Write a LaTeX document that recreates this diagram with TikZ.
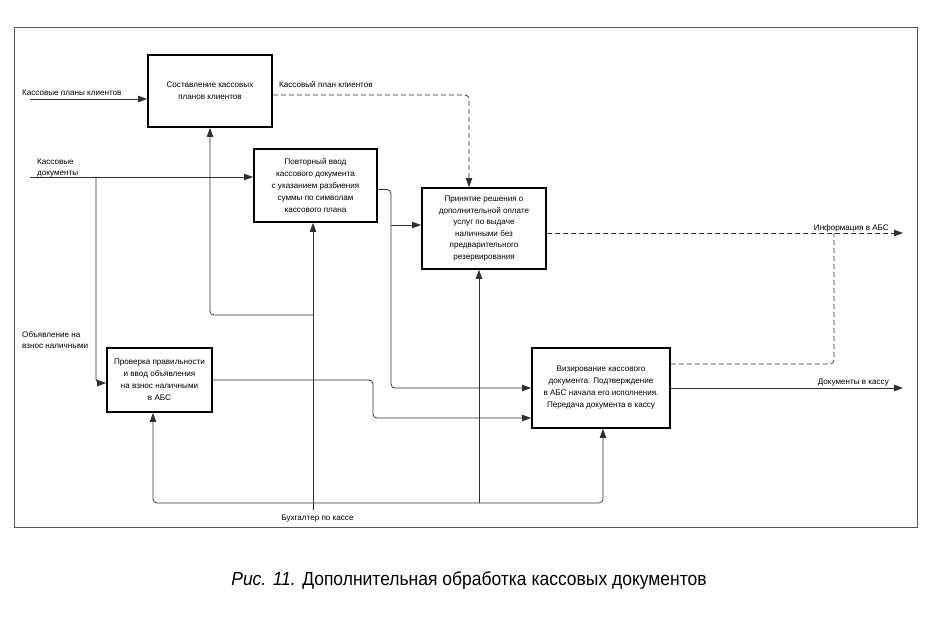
\documentclass[tikz,border=0pt]{standalone}
\usepackage{fontspec}
\setmainfont{Liberation Sans}
\newfontfamily\capfont{Liberation Sans}[FakeStretch=0.92]
\usetikzlibrary{arrows.meta}
\definecolor{ln}{HTML}{303030}
\definecolor{fr}{HTML}{555555}
\tikzset{
  box/.style={draw=black,line width=1.8pt,fill=white,align=center,inner sep=1pt,
    font=\fontsize{8.1}{12}\selectfont},
  conn/.style={draw=ln,line width=0.75pt},
  arr/.style={conn,-{Triangle[length=9pt,width=6.5pt]}},
  dsh/.style={dash pattern=on 5pt off 3pt},
  rc/.style={rounded corners=4pt},
  lbl/.style={inner sep=0pt,font=\fontsize{8.1}{11.5}\selectfont,align=left},
}
\begin{document}
\begin{tikzpicture}[x=1pt,y=-1pt]
\useasboundingbox (0,0) rectangle (934,616);
\draw[fr,line width=0.9pt] (14,27) rectangle (917,527);

% boxes
\node[box,minimum width=124pt,minimum height=72pt] (A) at (210,91) {Составление кассовых\\планов клиентов};
\node[box,minimum width=123pt,minimum height=73pt] (B) at (315.5,185.5) {Повторный ввод\\кассового документа\\с указанием разбиения\\суммы по символам\\кассового плана};
\node[box,minimum width=124pt,minimum height=81pt,font=\fontsize{8.1}{11.5}\selectfont] (C) at (484,228.5) {Принятие решения о\\дополнительной оплате\\услуг по выдаче\\наличными без\\предварительного\\резервирования};
\node[box,minimum width=105pt,minimum height=64pt] (D) at (159.5,380) {Проверка правильности\\и ввод объявления\\на взнос наличными\\в АБС};
\node[box,minimum width=138pt,minimum height=80pt] (E) at (601,388) {Визирование кассового\\документа. Подтверждение\\в АБС начала его исполнения.\\Передача документа в кассу};

% coordinates
\coordinate (pl) at (30,99);
\coordinate (doc) at (30,177);
\coordinate (docb) at (96,177);
\coordinate (bj) at (391,225);
\coordinate (bE) at (391,388);
\coordinate (dE) at (373,418);
\coordinate (info) at (903,233);
\coordinate (ij) at (834,233);
\coordinate (docs) at (903,388);
\coordinate (mech) at (313,510);
\coordinate (mj) at (313,503);
\coordinate (aj) at (313,315);

% inputs
\draw[arr] (pl) -- (pl -| A.west);
\draw[arr] (doc) -- (doc -| B.west);
\draw[arr,rc] (docb) |- ([yshift=-3pt]D.west);

% A -> C (dashed control)
\draw[arr,dsh,rc] ([yshift=-4pt]A.east) -| ([xshift=-15pt]C.north);

% B -> C and B -> E
\draw[arr,rc] ([yshift=-4pt]B.east) -| (bE) -- (bE -| E.west);
\draw[arr] (bj) -- (bj -| C.west);

% D -> E
\draw[arr,rc] (D.east) -| (dE) -- (dE -| E.west);

% outputs
\draw[arr,dsh] (C.east |- info) -- (info);
\draw[conn,dsh,rc] ([yshift=24pt]E.east) -| (ij);
\draw[arr] (E.east |- docs) -- (docs);

% mechanisms
\draw[conn] (mech) -- (mj);
\draw[arr,rc] (mj) -| ([xshift=-6.5pt]D.south);
\draw[arr,rc] (mj) -| ([xshift=2pt]E.south);
\draw[arr] ([xshift=-5pt]C.south |- mj) -- ([xshift=-5pt]C.south);
\draw[arr] (mj) -- (mj |- B.south);
\draw[arr,rc] (aj) -| (A.south);

% labels
\node[lbl,anchor=west] (lpl) at (22,93) {Кассовые планы клиентов};
\node[lbl,anchor=west] (lkp) at (279,85) {Кассовый план клиентов};
\node[lbl,anchor=west] (ldoc) at (37,168) {Кассовые\\документы};
\node[lbl,anchor=west] (lob) at (22,340) {Объявление на\\взнос наличными};
\node[lbl,anchor=east] (linf) at (889,228) {Информация в АБС};
\node[lbl,anchor=east] (ldk) at (889,383) {Документы в кассу};
\node[lbl] (lmech) at (317.5,519) {Бухгалтер по кассе};

% caption
\node[inner sep=0pt,font=\capfont\fontsize{19}{22}\selectfont] (cap) at (469,580) {\textit{Рис. 11.} Дополнительная обработка кассовых документов};
\end{tikzpicture}
\end{document}
